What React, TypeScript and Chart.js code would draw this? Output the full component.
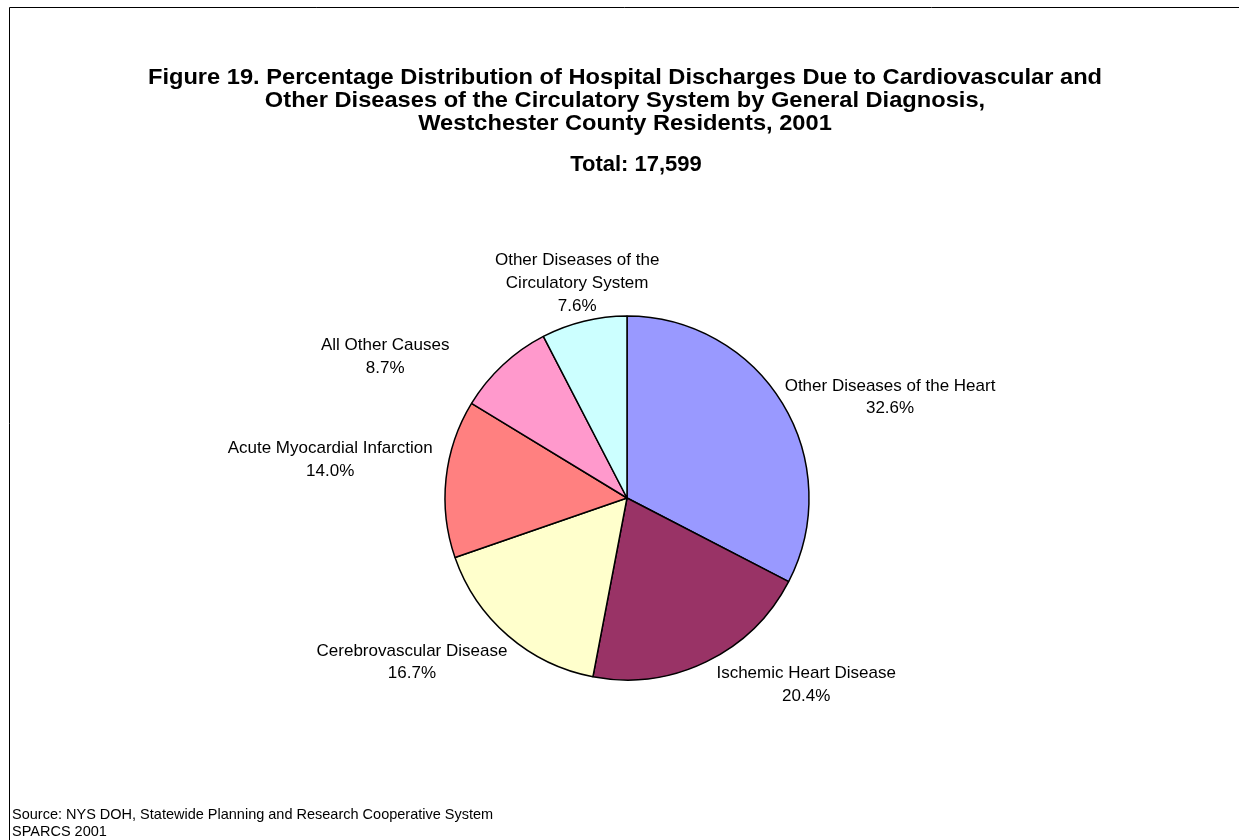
import { useEffect, useRef } from "react";
import { Chart, registerables } from "chart.js";

Chart.register(...registerables);

const titleLines = [
  "Figure 19. Percentage Distribution of Hospital Discharges Due to Cardiovascular and",
  "Other Diseases of the Circulatory System by General Diagnosis,",
  "Westchester County Residents, 2001",
];
const subtitle = "Total: 17,599";
const sourceLines = [
  "Source: NYS DOH, Statewide Planning and Research Cooperative System",
  "SPARCS 2001",
];

const categories = [
  "Other Diseases of the Heart",
  "Ischemic Heart Disease",
  "Cerebrovascular Disease",
  "Acute Myocardial Infarction",
  "All Other Causes",
  "Other Diseases of the\nCirculatory System",
];
const percentages = [32.6, 20.4, 16.7, 14.0, 8.7, 7.6];
const sliceColors = ["#9999FF", "#993366", "#FFFFCC", "#FF8080", "#FF99CC", "#CCFFFF"];

// hand-placed label nudges (style), relative to the outside-end anchor
const labelNudges = [
  [9, 11],
  [56, -6],
  [-27, 2],
  [-4, -15],
  [-67, 16],
  [15, 5],
];

const FONT = "'Liberation Sans', Arial, Helvetica, sans-serif";
const W = 1239;
const H = 840;

function stretchedText(ctx: CanvasRenderingContext2D, t: string, cx: number, cy: number, sx: number) {
  ctx.save();
  ctx.translate(cx, cy);
  ctx.scale(sx, 1);
  ctx.fillText(t, 0, 0);
  ctx.restore();
}

const decorPlugin = {
  id: "decor",
  afterDraw(chart: any) {
    const ctx = chart.ctx as CanvasRenderingContext2D;
    ctx.save();
    // frame
    ctx.strokeStyle = "#000";
    ctx.lineWidth = 1;
    ctx.beginPath();
    ctx.moveTo(9.5, H);
    ctx.lineTo(9.5, 7.5);
    ctx.lineTo(W, 7.5);
    ctx.stroke();

    ctx.fillStyle = "#000";
    ctx.textAlign = "center";
    ctx.textBaseline = "middle";
    ctx.font = `bold 22px ${FONT}`;
    titleLines.forEach((t, i) => stretchedText(ctx, t, 625, 78 + i * 23, 1.075));
    stretchedText(ctx, subtitle, 636, 165, 1.0);

    // slice labels
    const meta = chart.getDatasetMeta(0);
    ctx.font = `17px ${FONT}`;
    const lh = 22.7;
    meta.data.forEach((arc: any, i: number) => {
      const { x, y, startAngle, endAngle, outerRadius } = arc.getProps(
        ["x", "y", "startAngle", "endAngle", "outerRadius"],
        true
      );
      const mid = (startAngle + endAngle) / 2;
      const dx = Math.cos(mid);
      const dy = Math.sin(mid);
      const lines = [...categories[i].split("\n"), `${percentages[i].toFixed(1)}%`];
      const w = Math.max(...lines.map((l) => ctx.measureText(l).width));
      const h = lines.length * lh;
      const R = outerRadius + 10;
      const cx = x + R * dx + (dx * w) / 2 + labelNudges[i][0];
      const cy = y + R * dy + (dy * h) / 2 + labelNudges[i][1];
      lines.forEach((l, k) => {
        ctx.fillText(l, cx, cy - h / 2 + lh / 2 + k * lh);
      });
    });

    // source
    ctx.textAlign = "left";
    ctx.font = `14.5px ${FONT}`;
    sourceLines.forEach((t, i) => ctx.fillText(t, 12, 815 + i * 17));
    ctx.restore();
  },
};

export default function App() {
  const ref = useRef<HTMLCanvasElement | null>(null);
  useEffect(() => {
    if (!ref.current) return;
    const chart = new Chart(ref.current, {
      type: "pie",
      data: {
        labels: categories,
        datasets: [
          {
            data: percentages,
            backgroundColor: sliceColors,
            borderColor: "#000",
            borderWidth: 1.5,
          },
        ],
      },
      options: {
        responsive: false,
        animation: false,
        devicePixelRatio: 1,
        radius: 182,
        layout: { padding: { left: 200, right: 185, top: 300, bottom: 144 } },
        plugins: {
          legend: { display: false },
          title: { display: false },
          tooltip: { enabled: false },
        },
      } as any,
      plugins: [decorPlugin],
    });
    return () => chart.destroy();
  }, []);
  return (
    <div style={{ position: "absolute", left: 0, top: 0, width: W, height: H, background: "#fff" }}>
      <canvas ref={ref} width={W} height={H} style={{ display: "block" }} />
    </div>
  );
}
